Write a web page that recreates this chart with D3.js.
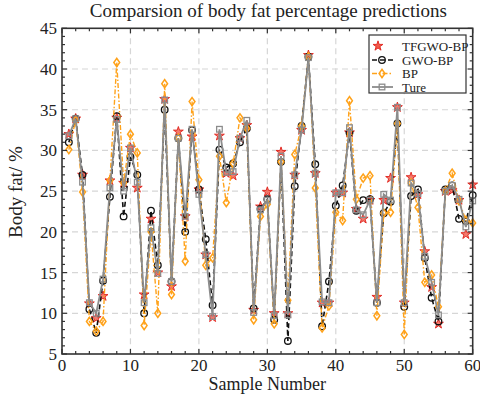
<!DOCTYPE html>
<html><head><meta charset="utf-8">
<script src="https://cdn.jsdelivr.net/npm/d3@7"></script>
<style>body{margin:0;background:#fff}svg{display:block}text{font-family:"Liberation Serif","Times New Roman",serif;fill:#222}</style>
</head><body><svg id="c" width="480" height="397"></svg>
<script>
const samples = d3.range(1, 61);
const tfgwo = [32.0,33.9,27.0,11.2,9.4,12.1,26.3,34.0,26.0,30.3,25.4,12.3,21.6,15.0,36.3,13.3,32.3,21.9,31.7,25.2,17.2,9.5,31.8,27.2,26.9,31.5,33.1,10.4,23.1,24.9,10.0,29.8,10.0,27.0,32.5,41.7,27.2,11.3,11.3,24.8,24.8,32.2,22.8,21.6,23.9,12.0,23.9,26.6,35.3,11.3,26.7,24.6,17.6,13.2,8.7,25.0,25.1,23.9,19.7,25.8];
const gwo = [31.0,33.9,27.0,10.5,7.6,14.0,24.3,34.2,21.9,29.2,27.0,10.0,22.6,15.9,35.0,13.9,31.5,20.0,32.5,25.2,19.1,11.0,30.1,27.9,28.4,31.0,32.7,10.6,22.8,24.0,9.2,28.6,6.6,25.6,33.0,41.5,28.3,8.4,13.9,23.2,25.7,32.2,22.6,23.9,24.0,11.3,22.3,23.7,33.3,10.8,24.4,25.2,16.8,11.9,9.0,25.2,25.7,21.6,21.3,24.5];
const bp = [30.1,33.7,24.9,9.0,7.8,9.0,26.3,40.8,26.0,32.0,29.7,8.5,20.0,10.0,38.2,12.3,31.5,16.4,36.0,26.4,15.9,16.8,29.3,23.6,28.4,34.0,32.7,9.2,21.9,23.4,8.7,28.6,11.6,29.5,33.0,41.5,25.4,8.2,10.9,22.4,21.4,36.1,24.0,26.6,26.9,9.7,22.3,22.4,33.3,7.4,26.0,23.0,13.8,14.7,10.8,25.0,27.2,23.8,21.4,21.1];
const ture = [31.8,33.9,26.1,11.3,10.0,14.2,25.4,33.8,25.0,30.3,26.1,11.3,20.5,14.9,36.2,13.9,31.5,21.9,32.6,24.6,17.2,9.6,32.6,27.3,27.4,31.5,33.7,10.1,22.7,23.9,9.7,29.3,9.8,27.0,32.5,41.4,27.2,11.4,11.3,24.8,24.8,32.8,22.7,22.1,23.9,11.3,24.6,23.9,35.3,11.3,26.0,24.7,17.0,13.8,9.8,25.0,25.7,24.0,20.6,23.8];
const seriesNames = ["TFGWO-BP","GWO-BP","BP","Ture"];
const xTicks = [0,10,20,30,40,50,60];
const yTicks = [5,10,15,20,25,30,35,40,45];
const titleText = "Comparsion of body fat percentage predictions";
const xLabel = "Sample Number";
const yLabel = "Body fat/ %";

const svg = d3.select("#c");
const L = 62, R = 472.7, T = 28.3, B = 354;
const x = d3.scaleLinear().domain([0,60]).range([L,R]);
const y = d3.scaleLinear().domain([5,45]).range([B,T]);

// grid
const g = svg.append("g");
g.selectAll(".gx").data(xTicks.filter(v=>v>0&&v<60)).join("line")
  .attr("x1",d=>x(d)).attr("x2",d=>x(d)).attr("y1",T).attr("y2",B)
  .attr("stroke","#d6d6d6").attr("stroke-width",1.2).attr("stroke-dasharray","6,4");
g.selectAll(".gy").data(yTicks.filter(v=>v>5&&v<45)).join("line")
  .attr("x1",L).attr("x2",R).attr("y1",d=>y(d)).attr("y2",d=>y(d))
  .attr("stroke","#d6d6d6").attr("stroke-width",1.2).attr("stroke-dasharray","6,4");

const sym = (type,size)=>d3.symbol().type(type).size(size)();
const pts = arr => arr.map((v,i)=>[samples[i],v]);
const line = d3.line().x(d=>x(d[0])).y(d=>y(d[1]));
const STAR = 30, DIA = 16;

// TFGWO-BP stars
svg.append("g").selectAll("path").data(pts(tfgwo)).join("path")
  .attr("d",sym(d3.symbolStar,STAR))
  .attr("transform",d=>`translate(${x(d[0])},${y(d[1])})`)
  .attr("fill","#f05a4a").attr("fill-opacity",0.8).attr("stroke","#e0201a").attr("stroke-width",0.9);

// GWO-BP
svg.append("path").datum(pts(gwo)).attr("d",line).attr("fill","none")
  .attr("stroke","#111").attr("stroke-width",1.6).attr("stroke-dasharray","5,3");
svg.append("g").selectAll("circle").data(pts(gwo)).join("circle")
  .attr("cx",d=>x(d[0])).attr("cy",d=>y(d[1])).attr("r",3.3)
  .attr("fill","none").attr("stroke","#111").attr("stroke-width",1.3);

// BP
svg.append("path").datum(pts(bp)).attr("d",line).attr("fill","none")
  .attr("stroke","#ffa21a").attr("stroke-width",1.4).attr("stroke-dasharray","5,2,1.5,2");
svg.append("g").selectAll("path").data(pts(bp)).join("path")
  .attr("d",sym(d3.symbolDiamond,DIA))
  .attr("transform",d=>`translate(${x(d[0])},${y(d[1])}) scale(1.35,1.1)`)
  .attr("fill","none").attr("stroke","#ffa21a").attr("stroke-width",1.2);

// Ture
svg.append("path").datum(pts(ture)).attr("d",line).attr("fill","none")
  .attr("stroke","#8c8c8c").attr("stroke-width",1.8);
svg.append("g").selectAll("rect").data(pts(ture)).join("rect")
  .attr("x",d=>x(d[0])-2.8).attr("y",d=>y(d[1])-2.8).attr("width",5.6).attr("height",5.6)
  .attr("fill","none").attr("stroke","#8c8c8c").attr("stroke-width",1.3);

// frame and ticks
const ax = svg.append("g");
ax.append("rect").attr("x",L).attr("y",T).attr("width",R-L).attr("height",B-T)
  .attr("fill","none").attr("stroke","#333").attr("stroke-width",1.6);
const xMinor = d3.range(0,61,2), yMinor = d3.range(5,46,1);
xMinor.forEach(v=>{
  const len = v%10===0?5:3;
  ax.append("line").attr("x1",x(v)).attr("x2",x(v)).attr("y1",B).attr("y2",B-len).attr("stroke","#333").attr("stroke-width",1.2);
  ax.append("line").attr("x1",x(v)).attr("x2",x(v)).attr("y1",T).attr("y2",T+len).attr("stroke","#333").attr("stroke-width",1.2);
});
yMinor.forEach(v=>{
  const len = v%5===0?5:3;
  ax.append("line").attr("y1",y(v)).attr("y2",y(v)).attr("x1",L).attr("x2",L+len).attr("stroke","#333").attr("stroke-width",1.2);
  ax.append("line").attr("y1",y(v)).attr("y2",y(v)).attr("x1",R).attr("x2",R-len).attr("stroke","#333").attr("stroke-width",1.2);
});
ax.selectAll(".xt").data(xTicks).join("text").attr("x",d=>x(d)).attr("y",371)
  .attr("text-anchor","middle").attr("font-size",17).text(d=>d);
ax.selectAll(".yt").data(yTicks).join("text").attr("x",57).attr("y",d=>y(d)+6)
  .attr("text-anchor","end").attr("font-size",17).text(d=>d);

svg.append("text").attr("x",(L+R)/2).attr("y",390).attr("text-anchor","middle").attr("font-size",18).text(xLabel);
svg.append("text").attr("transform","translate(22,192) rotate(-90)").attr("text-anchor","middle").attr("font-size",19).text(yLabel);
svg.append("text").attr("x",(L+R)/2+1).attr("y",17).attr("text-anchor","middle").attr("font-size",19).text(titleText);

// legend
const lg = svg.append("g");
lg.append("rect").attr("x",369).attr("y",35).attr("width",97).attr("height",58)
  .attr("fill","#fff").attr("stroke","#333").attr("stroke-width",1.2);
const rows = [46,60,73.5,87];
lg.append("path").attr("d",sym(d3.symbolStar,STAR)).attr("transform",`translate(378,${rows[0]})`)
  .attr("fill","#f05a4a").attr("stroke","#e0201a").attr("stroke-width",0.9);
lg.append("line").attr("x1",372).attr("x2",393).attr("y1",rows[1]).attr("y2",rows[1]).attr("stroke","#111").attr("stroke-width",1.6).attr("stroke-dasharray","5,3");
lg.append("circle").attr("cx",382).attr("cy",rows[1]).attr("r",3.3).attr("fill","none").attr("stroke","#111").attr("stroke-width",1.3);
lg.append("line").attr("x1",372).attr("x2",393).attr("y1",rows[2]).attr("y2",rows[2]).attr("stroke","#ffa21a").attr("stroke-width",1.4).attr("stroke-dasharray","5,2,1.5,2");
lg.append("path").attr("d",sym(d3.symbolDiamond,DIA)).attr("transform",`translate(382,${rows[2]}) scale(1.35,1.1)`).attr("fill","none").attr("stroke","#ffa21a").attr("stroke-width",1.2);
lg.append("line").attr("x1",372).attr("x2",393).attr("y1",rows[3]).attr("y2",rows[3]).attr("stroke","#8c8c8c").attr("stroke-width",1.8);
lg.append("rect").attr("x",382-2.8).attr("y",rows[3]-2.8).attr("width",5.6).attr("height",5.6).attr("fill","none").attr("stroke","#8c8c8c").attr("stroke-width",1.3);
lg.selectAll(".lt").data(seriesNames).join("text").attr("x",402).attr("y",(d,i)=>rows[i]+4.5)
  .attr("font-size",13).text(d=>d);
</script></body></html>
